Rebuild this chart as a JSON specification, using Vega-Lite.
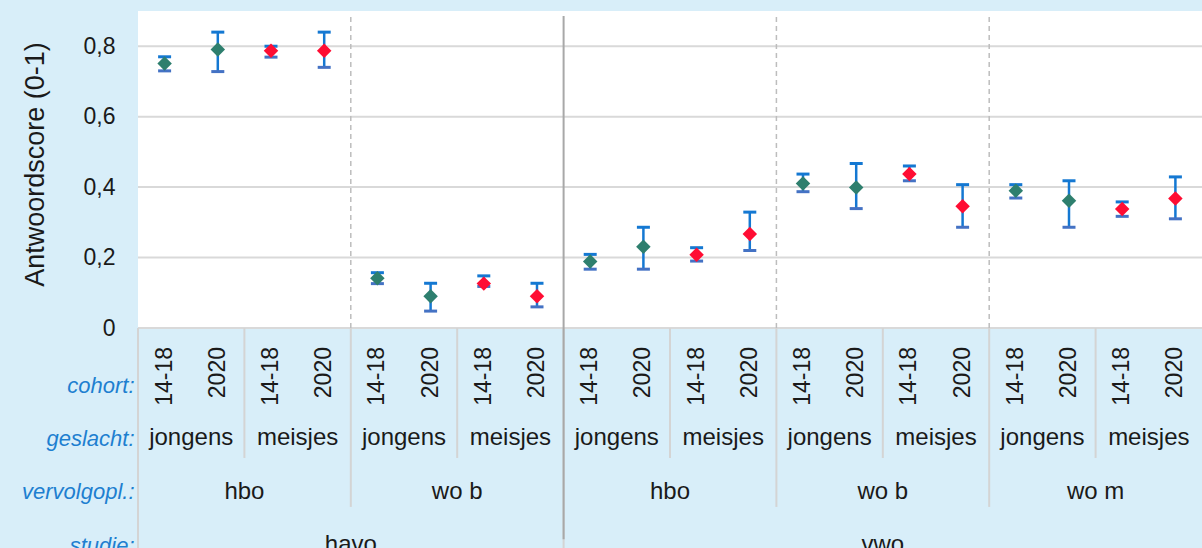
{
  "$schema": "https://vega.github.io/schema/vega-lite/v6.json",
  "width": 1064,
  "height": 537,
  "autosize": {"type": "none"},
  "padding": {"left": 138, "top": 11, "right": 0, "bottom": 0},
  "background": "#d8eef9",
  "config": {"view": {"stroke": null, "fill": null}, "font": "Liberation Sans"},
  "datasets": {
    "pts": [
      {"studie": "havo", "vervolg": "hbo", "geslacht": "jongens", "cohort": "14-18", "key": "havo|hbo|jongens|14-18", "score": 0.751, "lo": 0.730, "hi": 0.770},
      {"studie": "havo", "vervolg": "hbo", "geslacht": "jongens", "cohort": "2020", "key": "havo|hbo|jongens|2020", "score": 0.791, "lo": 0.728, "hi": 0.840},
      {"studie": "havo", "vervolg": "hbo", "geslacht": "meisjes", "cohort": "14-18", "key": "havo|hbo|meisjes|14-18", "score": 0.787, "lo": 0.769, "hi": 0.800},
      {"studie": "havo", "vervolg": "hbo", "geslacht": "meisjes", "cohort": "2020", "key": "havo|hbo|meisjes|2020", "score": 0.787, "lo": 0.740, "hi": 0.840},
      {"studie": "havo", "vervolg": "wo b", "geslacht": "jongens", "cohort": "14-18", "key": "havo|wo b|jongens|14-18", "score": 0.141, "lo": 0.126, "hi": 0.157},
      {"studie": "havo", "vervolg": "wo b", "geslacht": "jongens", "cohort": "2020", "key": "havo|wo b|jongens|2020", "score": 0.090, "lo": 0.048, "hi": 0.127},
      {"studie": "havo", "vervolg": "wo b", "geslacht": "meisjes", "cohort": "14-18", "key": "havo|wo b|meisjes|14-18", "score": 0.126, "lo": 0.118, "hi": 0.148},
      {"studie": "havo", "vervolg": "wo b", "geslacht": "meisjes", "cohort": "2020", "key": "havo|wo b|meisjes|2020", "score": 0.090, "lo": 0.060, "hi": 0.127},
      {"studie": "vwo", "vervolg": "hbo", "geslacht": "jongens", "cohort": "14-18", "key": "vwo|hbo|jongens|14-18", "score": 0.189, "lo": 0.167, "hi": 0.209},
      {"studie": "vwo", "vervolg": "hbo", "geslacht": "jongens", "cohort": "2020", "key": "vwo|hbo|jongens|2020", "score": 0.231, "lo": 0.167, "hi": 0.286},
      {"studie": "vwo", "vervolg": "hbo", "geslacht": "meisjes", "cohort": "14-18", "key": "vwo|hbo|meisjes|14-18", "score": 0.208, "lo": 0.190, "hi": 0.228},
      {"studie": "vwo", "vervolg": "hbo", "geslacht": "meisjes", "cohort": "2020", "key": "vwo|hbo|meisjes|2020", "score": 0.267, "lo": 0.220, "hi": 0.329},
      {"studie": "vwo", "vervolg": "wo b", "geslacht": "jongens", "cohort": "14-18", "key": "vwo|wo b|jongens|14-18", "score": 0.410, "lo": 0.387, "hi": 0.437},
      {"studie": "vwo", "vervolg": "wo b", "geslacht": "jongens", "cohort": "2020", "key": "vwo|wo b|jongens|2020", "score": 0.399, "lo": 0.339, "hi": 0.467},
      {"studie": "vwo", "vervolg": "wo b", "geslacht": "meisjes", "cohort": "14-18", "key": "vwo|wo b|meisjes|14-18", "score": 0.437, "lo": 0.418, "hi": 0.460},
      {"studie": "vwo", "vervolg": "wo b", "geslacht": "meisjes", "cohort": "2020", "key": "vwo|wo b|meisjes|2020", "score": 0.346, "lo": 0.286, "hi": 0.407},
      {"studie": "vwo", "vervolg": "wo m", "geslacht": "jongens", "cohort": "14-18", "key": "vwo|wo m|jongens|14-18", "score": 0.390, "lo": 0.369, "hi": 0.407},
      {"studie": "vwo", "vervolg": "wo m", "geslacht": "jongens", "cohort": "2020", "key": "vwo|wo m|jongens|2020", "score": 0.361, "lo": 0.286, "hi": 0.418},
      {"studie": "vwo", "vervolg": "wo m", "geslacht": "meisjes", "cohort": "14-18", "key": "vwo|wo m|meisjes|14-18", "score": 0.338, "lo": 0.317, "hi": 0.358},
      {"studie": "vwo", "vervolg": "wo m", "geslacht": "meisjes", "cohort": "2020", "key": "vwo|wo m|meisjes|2020", "score": 0.368, "lo": 0.310, "hi": 0.429}
    ],
    "grid": [{"v": 0}, {"v": 0.2}, {"v": 0.4}, {"v": 0.6}, {"v": 0.8}],
    "seps": [
      {"kind": "edge", "key": "havo|hbo|jongens|14-18"},
      {"kind": "gender", "key": "havo|hbo|meisjes|14-18"},
      {"kind": "gender", "key": "havo|wo b|meisjes|14-18"},
      {"kind": "gender", "key": "vwo|hbo|meisjes|14-18"},
      {"kind": "gender", "key": "vwo|wo b|meisjes|14-18"},
      {"kind": "gender", "key": "vwo|wo m|meisjes|14-18"},
      {"kind": "vervolg", "key": "havo|wo b|jongens|14-18"},
      {"kind": "vervolg", "key": "vwo|wo b|jongens|14-18"},
      {"kind": "vervolg", "key": "vwo|wo m|jongens|14-18"},
      {"kind": "studie", "key": "vwo|hbo|jongens|14-18"}
    ],
    "labels": [
      {"row": "cohort:", "text": "14-18", "key": "havo|hbo|jongens|14-18"},
      {"row": "cohort:", "text": "2020", "key": "havo|hbo|jongens|2020"},
      {"row": "cohort:", "text": "14-18", "key": "havo|hbo|meisjes|14-18"},
      {"row": "cohort:", "text": "2020", "key": "havo|hbo|meisjes|2020"},
      {"row": "cohort:", "text": "14-18", "key": "havo|wo b|jongens|14-18"},
      {"row": "cohort:", "text": "2020", "key": "havo|wo b|jongens|2020"},
      {"row": "cohort:", "text": "14-18", "key": "havo|wo b|meisjes|14-18"},
      {"row": "cohort:", "text": "2020", "key": "havo|wo b|meisjes|2020"},
      {"row": "cohort:", "text": "14-18", "key": "vwo|hbo|jongens|14-18"},
      {"row": "cohort:", "text": "2020", "key": "vwo|hbo|jongens|2020"},
      {"row": "cohort:", "text": "14-18", "key": "vwo|hbo|meisjes|14-18"},
      {"row": "cohort:", "text": "2020", "key": "vwo|hbo|meisjes|2020"},
      {"row": "cohort:", "text": "14-18", "key": "vwo|wo b|jongens|14-18"},
      {"row": "cohort:", "text": "2020", "key": "vwo|wo b|jongens|2020"},
      {"row": "cohort:", "text": "14-18", "key": "vwo|wo b|meisjes|14-18"},
      {"row": "cohort:", "text": "2020", "key": "vwo|wo b|meisjes|2020"},
      {"row": "cohort:", "text": "14-18", "key": "vwo|wo m|jongens|14-18"},
      {"row": "cohort:", "text": "2020", "key": "vwo|wo m|jongens|2020"},
      {"row": "cohort:", "text": "14-18", "key": "vwo|wo m|meisjes|14-18"},
      {"row": "cohort:", "text": "2020", "key": "vwo|wo m|meisjes|2020"},
      {"row": "geslacht:", "text": "jongens", "key": "havo|hbo|jongens|14-18"},
      {"row": "geslacht:", "text": "meisjes", "key": "havo|hbo|meisjes|14-18"},
      {"row": "geslacht:", "text": "jongens", "key": "havo|wo b|jongens|14-18"},
      {"row": "geslacht:", "text": "meisjes", "key": "havo|wo b|meisjes|14-18"},
      {"row": "geslacht:", "text": "jongens", "key": "vwo|hbo|jongens|14-18"},
      {"row": "geslacht:", "text": "meisjes", "key": "vwo|hbo|meisjes|14-18"},
      {"row": "geslacht:", "text": "jongens", "key": "vwo|wo b|jongens|14-18"},
      {"row": "geslacht:", "text": "meisjes", "key": "vwo|wo b|meisjes|14-18"},
      {"row": "geslacht:", "text": "jongens", "key": "vwo|wo m|jongens|14-18"},
      {"row": "geslacht:", "text": "meisjes", "key": "vwo|wo m|meisjes|14-18"},
      {"row": "vervolgopl.:", "text": "hbo", "key": "havo|hbo|jongens|2020"},
      {"row": "vervolgopl.:", "text": "wo b", "key": "havo|wo b|jongens|2020"},
      {"row": "vervolgopl.:", "text": "hbo", "key": "vwo|hbo|jongens|2020"},
      {"row": "vervolgopl.:", "text": "wo b", "key": "vwo|wo b|jongens|2020"},
      {"row": "vervolgopl.:", "text": "wo m", "key": "vwo|wo m|jongens|2020"},
      {"row": "studie:", "text": "havo", "key": "havo|hbo|meisjes|2020"},
      {"row": "studie:", "text": "vwo", "key": "vwo|wo b|jongens|2020"}
    ]
  },
  "layer": [
    {
      "layer": [
        {
          "data": {"values": [{}]},
          "mark": {"type": "rect", "color": "white"},
          "encoding": {
            "y": {
              "datum": 0,
              "type": "quantitative",
              "scale": {"domain": [-0.6246, 0.9], "nice": false, "zero": false},
              "axis": {
                "values": [0, 0.2, 0.4, 0.6, 0.8],
                "labelExpr": "datum.value == 0 ? '0' : replace(format(datum.value, '.1f'), '.', ',')",
                "domain": false,
                "ticks": false,
                "grid": false,
                "labelFontSize": 23,
                "labelColor": "#1a1a1a",
                "labelPadding": 23,
                "title": "Antwoordscore (0-1)",
                "titleFontSize": 27,
                "titleFontWeight": "normal",
                "titleColor": "#1a1a1a",
                "titleAngle": 270,
                "titleX": -103,
                "titleY": 153,
                "titleAlign": "center",
                "titleBaseline": "middle"
              }
            },
            "y2": {"datum": 0.9}
          }
        },
        {
          "data": {"name": "grid"},
          "mark": {"type": "rule", "color": "#d9d9d9", "strokeWidth": 2},
          "encoding": {"y": {"field": "v", "type": "quantitative"}}
        },
        {
          "data": {"name": "seps"},
          "transform": [{"filter": "datum.kind == 'vervolg'"}],
          "mark": {"type": "rule", "color": "#bdbdbd", "strokeWidth": 1.5, "strokeDash": [5, 4]},
          "encoding": {
            "x": {"field": "key", "type": "nominal", "bandPosition": 0, "axis": null, "scale": {"type": "band", "paddingInner": 0, "paddingOuter": 0}},
            "y": {"datum": 0},
            "y2": {"datum": 0.886}
          }
        },
        {
          "data": {"name": "seps"},
          "transform": [{"filter": "datum.kind == 'vervolg'"}],
          "mark": {"type": "rule", "color": "#d4d4d4", "strokeWidth": 2},
          "encoding": {
            "x": {"field": "key", "type": "nominal", "bandPosition": 0, "axis": null},
            "y": {"datum": 0},
            "y2": {"datum": -0.508}
          }
        },
        {
          "data": {"name": "seps"},
          "transform": [{"filter": "datum.kind == 'gender'"}],
          "mark": {"type": "rule", "color": "#d4d4d4", "strokeWidth": 2},
          "encoding": {
            "x": {"field": "key", "type": "nominal", "bandPosition": 0, "axis": null},
            "y": {"datum": 0},
            "y2": {"datum": -0.369}
          }
        },
        {
          "data": {"name": "seps"},
          "transform": [{"filter": "datum.kind == 'edge' || datum.kind == 'studie'"}],
          "mark": {"type": "rule", "color": "#d4d4d4", "strokeWidth": 2},
          "encoding": {
            "x": {"field": "key", "type": "nominal", "bandPosition": 0, "axis": null},
            "y": {"datum": 0},
            "y2": {"datum": -0.63}
          }
        },
        {
          "data": {"name": "seps"},
          "transform": [{"filter": "datum.kind == 'studie'"}],
          "mark": {"type": "rule", "color": "#a8a8a8", "strokeWidth": 2},
          "encoding": {
            "x": {"field": "key", "type": "nominal", "bandPosition": 0, "axis": null},
            "y": {"datum": -0.6},
            "y2": {"datum": 0.886}
          }
        },
        {
          "data": {"name": "pts"},
          "mark": {"type": "rule", "color": "#1478d2", "strokeWidth": 2.5},
          "encoding": {
            "x": {"field": "key", "type": "nominal", "axis": null},
            "y": {"field": "lo", "type": "quantitative"},
            "y2": {"field": "hi"}
          }
        },
        {
          "data": {"name": "pts"},
          "mark": {"type": "tick", "color": "#1478d2", "size": 13, "thickness": 3, "opacity": 1},
          "encoding": {
            "x": {"field": "key", "type": "nominal", "axis": null},
            "y": {"field": "hi", "type": "quantitative"}
          }
        },
        {
          "data": {"name": "pts"},
          "mark": {"type": "tick", "color": "#4472c4", "size": 13, "thickness": 3, "opacity": 1},
          "encoding": {
            "x": {"field": "key", "type": "nominal", "axis": null},
            "y": {"field": "lo", "type": "quantitative"}
          }
        },
        {
          "data": {"name": "pts"},
          "mark": {"type": "point", "shape": "diamond", "filled": true, "size": 210, "opacity": 1},
          "encoding": {
            "x": {"field": "key", "type": "nominal", "axis": null},
            "y": {"field": "score", "type": "quantitative"},
            "color": {
              "field": "geslacht",
              "type": "nominal",
              "scale": {"domain": ["jongens", "meisjes"], "range": ["#2e7f6e", "#ff0d33"]},
              "legend": null
            }
          }
        }
      ]
    },
    {
      "data": {"name": "labels"},
      "layer": [
        {
          "transform": [{"filter": "datum.row == 'cohort:'"}],
          "mark": {"type": "text", "angle": 270, "align": "right", "baseline": "middle", "dx": 38, "fontSize": 23, "color": "#1a1a1a"},
          "encoding": {
            "x": {"field": "key", "type": "nominal", "bandPosition": 0.5, "axis": null},
            "y": {
              "field": "row",
              "type": "ordinal",
              "scale": {"type": "point", "domain": ["cohort:", "geslacht:", "vervolgopl.:", "studie:"], "range": [374, 534], "padding": 0},
              "axis": {
                "orient": "left",
                "title": null,
                "domain": false,
                "ticks": false,
                "grid": false,
                "labelFontSize": 22,
                "labelFontStyle": "italic",
                "labelColor": "#1e7fd0",
                "labelPadding": 4
              }
            },
            "text": {"field": "text"}
          }
        },
        {
          "transform": [{"filter": "datum.row != 'cohort:'"}],
          "mark": {"type": "text", "align": "center", "baseline": "middle", "fontSize": 24, "color": "#1a1a1a"},
          "encoding": {
            "x": {"field": "key", "type": "nominal", "bandPosition": 1, "axis": null},
            "y": {"field": "row", "type": "ordinal"},
            "text": {"field": "text"}
          }
        }
      ]
    }
  ],
  "resolve": {"scale": {"y": "independent"}, "axis": {"y": "independent"}}
}
